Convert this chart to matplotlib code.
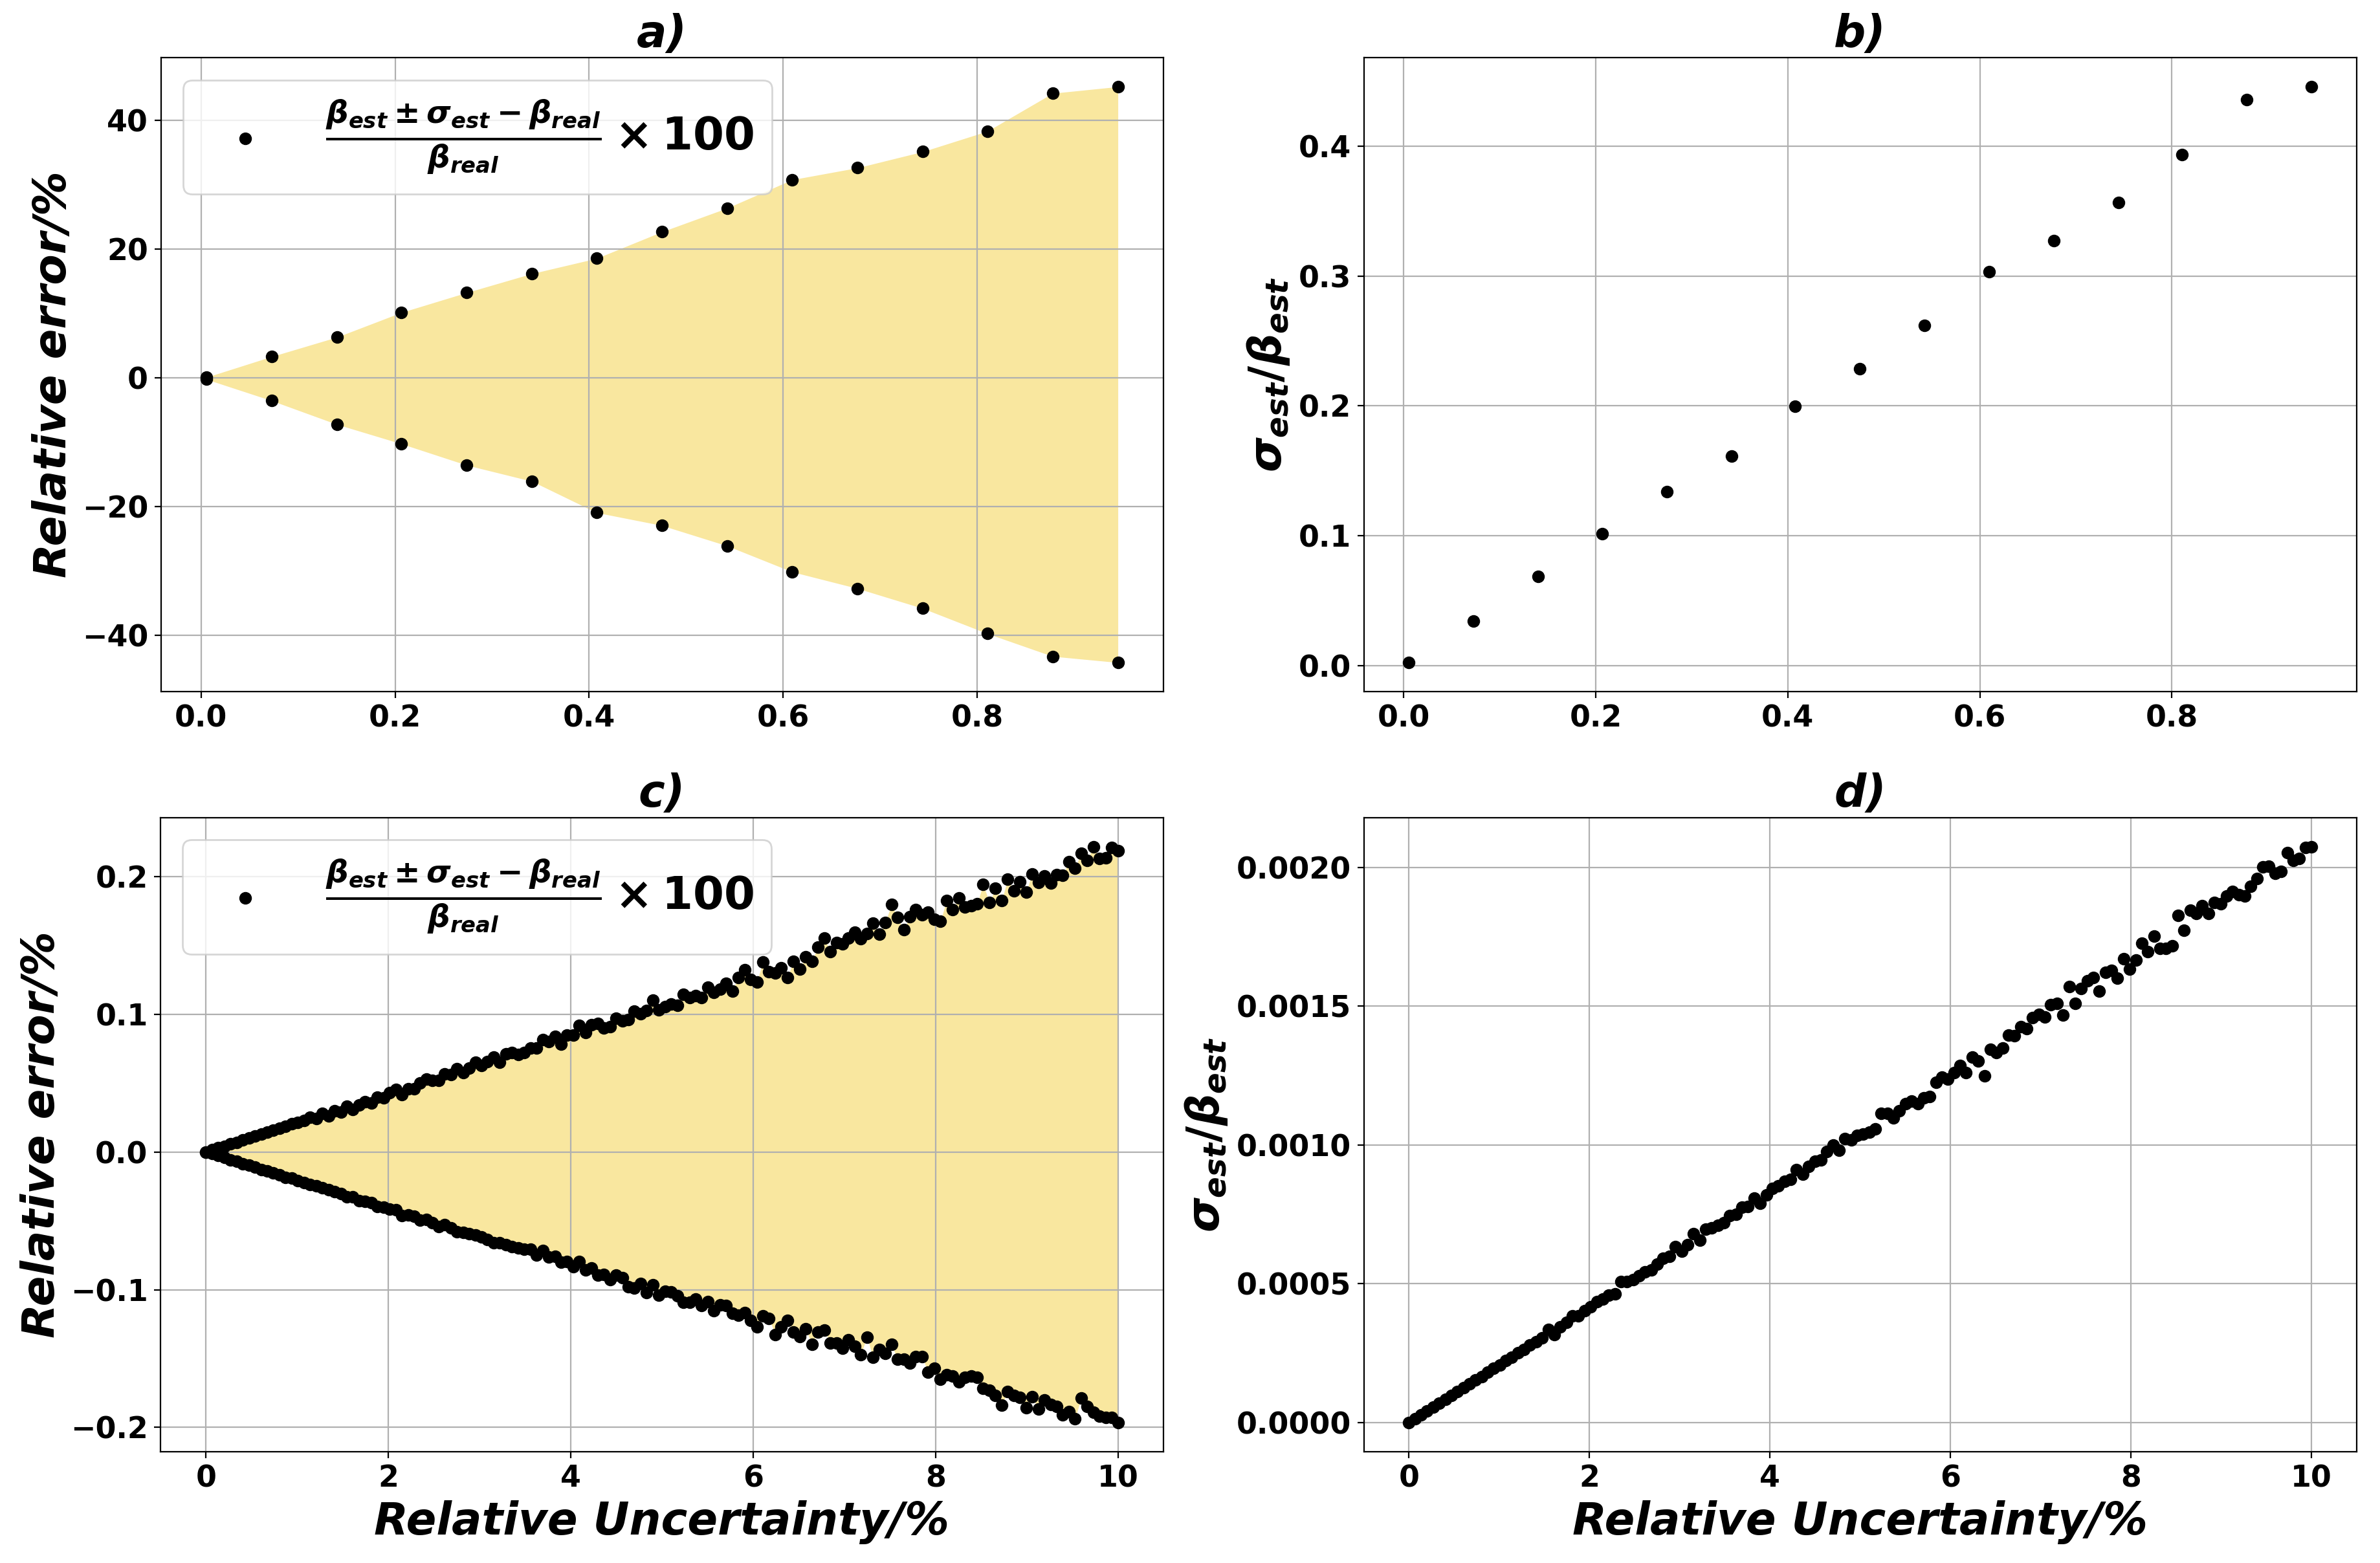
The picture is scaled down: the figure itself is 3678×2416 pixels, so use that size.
import matplotlib
matplotlib.use("Agg")
import matplotlib.pyplot as plt
import numpy as np

# ---------------- data ----------------
# panels a) and b)
x_ab = [0.0055, 0.0728, 0.1401, 0.2066, 0.2739, 0.3412, 0.4077, 0.4750,
        0.5423, 0.6095, 0.6768, 0.7441, 0.8106, 0.8779, 0.9452]
a_upper = [0.1, 3.32, 6.34, 10.18, 13.27, 16.22, 18.58, 22.71, 26.40,
           30.82, 32.67, 35.18, 38.35, 44.25, 45.28]
a_lower = [-0.22, -3.54, -7.23, -10.25, -13.57, -16.08, -20.94, -22.94,
           -26.11, -30.16, -32.74, -35.84, -39.75, -43.29, -44.25]
b_ratio = [0.0026, 0.0343, 0.0686, 0.1015, 0.1339, 0.1613, 0.1996, 0.2285,
           0.2620, 0.3033, 0.3270, 0.3566, 0.3934, 0.4358, 0.4456]

# panels c) and d)
x_cd = [0.000, 0.067, 0.134, 0.201, 0.268, 0.336, 0.403, 0.470, 0.537, 0.604,
        0.671, 0.738, 0.805, 0.872, 0.940, 1.007, 1.074, 1.141, 1.208, 1.275,
        1.342, 1.409, 1.477, 1.544, 1.611, 1.678, 1.745, 1.812, 1.879, 1.946,
        2.013, 2.081, 2.148, 2.215, 2.282, 2.349, 2.416, 2.483, 2.550, 2.617,
        2.685, 2.752, 2.819, 2.886, 2.953, 3.020, 3.087, 3.154, 3.221, 3.289,
        3.356, 3.423, 3.490, 3.557, 3.624, 3.691, 3.758, 3.826, 3.893, 3.960,
        4.027, 4.094, 4.161, 4.228, 4.295, 4.362, 4.430, 4.497, 4.564, 4.631,
        4.698, 4.765, 4.832, 4.899, 4.966, 5.034, 5.101, 5.168, 5.235, 5.302,
        5.369, 5.436, 5.503, 5.570, 5.638, 5.705, 5.772, 5.839, 5.906, 5.973,
        6.040, 6.107, 6.174, 6.242, 6.309, 6.376, 6.443, 6.510, 6.577, 6.644,
        6.711, 6.779, 6.846, 6.913, 6.980, 7.047, 7.114, 7.181, 7.248, 7.315,
        7.383, 7.450, 7.517, 7.584, 7.651, 7.718, 7.785, 7.852, 7.919, 7.987,
        8.054, 8.121, 8.188, 8.255, 8.322, 8.389, 8.456, 8.523, 8.591, 8.658,
        8.725, 8.792, 8.859, 8.926, 8.993, 9.060, 9.128, 9.195, 9.262, 9.329,
        9.396, 9.463, 9.530, 9.597, 9.664, 9.732, 9.799, 9.866, 9.933, 10.000]

c_upper = [0.0000, 0.0016, 0.0030, 0.0042, 0.0059, 0.0071, 0.0086, 0.0100, 0.0117, 0.0128,
           0.0143, 0.0160, 0.0172, 0.0186, 0.0204, 0.0215, 0.0228, 0.0252, 0.0243, 0.0280,
           0.0262, 0.0300, 0.0290, 0.0331, 0.0308, 0.0343, 0.0365, 0.0358, 0.0398, 0.0395,
           0.0432, 0.0454, 0.0415, 0.0460, 0.0458, 0.0500, 0.0528, 0.0522, 0.0520, 0.0568,
           0.0562, 0.0606, 0.0578, 0.0610, 0.0650, 0.0628, 0.0655, 0.0690, 0.0652, 0.0712,
           0.0724, 0.0706, 0.0722, 0.0753, 0.0753, 0.0816, 0.0800, 0.0839, 0.0784, 0.0847,
           0.0847, 0.0922, 0.0870, 0.0925, 0.0933, 0.0902, 0.0909, 0.0972, 0.0952, 0.0964,
           0.1023, 0.1003, 0.1027, 0.1105, 0.1034, 0.1058, 0.1077, 0.1066, 0.1144, 0.1123,
           0.1136, 0.1123, 0.1198, 0.1159, 0.1183, 0.1227, 0.1170, 0.1269, 0.1323, 0.1253,
           0.1234, 0.1378, 0.1308, 0.1300, 0.1339, 0.1269, 0.1386, 0.1327, 0.1417, 0.1386,
           0.1488, 0.1556, 0.1457, 0.1520, 0.1512, 0.1556, 0.1598, 0.1551, 0.1587, 0.1660,
           0.1582, 0.1668, 0.1797, 0.1703, 0.1613, 0.1707, 0.1759, 0.1723, 0.1743, 0.1692,
           0.1676, 0.1825, 0.1759, 0.1845, 0.1778, 0.1790, 0.1801, 0.1945, 0.1812, 0.1914,
           0.1825, 0.1981, 0.1895, 0.1962, 0.1887, 0.2020, 0.1958, 0.2005, 0.1953, 0.2013,
           0.2009, 0.2110, 0.2063, 0.2169, 0.2119, 0.2219, 0.2130, 0.2135, 0.2213, 0.2188]

c_lower = [0.0000, -0.0012, -0.0027, -0.0041, -0.0056, -0.0069, -0.0085, -0.0097, -0.0111, -0.0126,
           -0.0138, -0.0152, -0.0168, -0.0186, -0.0190, -0.0207, -0.0220, -0.0238, -0.0248, -0.0262,
           -0.0275, -0.0290, -0.0302, -0.0325, -0.0326, -0.0352, -0.0357, -0.0366, -0.0394, -0.0401,
           -0.0414, -0.0420, -0.0462, -0.0457, -0.0468, -0.0496, -0.0490, -0.0512, -0.0540, -0.0528,
           -0.0551, -0.0580, -0.0584, -0.0594, -0.0602, -0.0617, -0.0634, -0.0660, -0.0658, -0.0672,
           -0.0686, -0.0698, -0.0708, -0.0708, -0.0747, -0.0716, -0.0763, -0.0758, -0.0802, -0.0794,
           -0.0833, -0.0794, -0.0856, -0.0841, -0.0895, -0.0888, -0.0927, -0.0892, -0.0911, -0.0981,
           -0.0989, -0.0955, -0.1020, -0.0966, -0.1039, -0.1013, -0.1017, -0.1044, -0.1091, -0.1091,
           -0.1070, -0.1114, -0.1086, -0.1153, -0.1111, -0.1114, -0.1173, -0.1184, -0.1169, -0.1223,
           -0.1270, -0.1192, -0.1208, -0.1325, -0.1270, -0.1223, -0.1309, -0.1341, -0.1286, -0.1395,
           -0.1308, -0.1293, -0.1387, -0.1387, -0.1423, -0.1363, -0.1410, -0.1470, -0.1344, -0.1491,
           -0.1433, -0.1465, -0.1399, -0.1504, -0.1504, -0.1532, -0.1488, -0.1488, -0.1598, -0.1570,
           -0.1653, -0.1617, -0.1629, -0.1668, -0.1637, -0.1626, -0.1637, -0.1715, -0.1731, -0.1770,
           -0.1840, -0.1739, -0.1770, -0.1782, -0.1856, -0.1778, -0.1867, -0.1801, -0.1833, -0.1848,
           -0.1911, -0.1887, -0.1939, -0.1786, -0.1848, -0.1892, -0.1919, -0.1930, -0.1926, -0.1966]

d_ratio = [0e-6, 14e-6, 27e-6, 42e-6, 55e-6, 70e-6, 83e-6, 97e-6, 112e-6, 125e-6,
           139e-6, 154e-6, 166e-6, 181e-6, 195e-6, 208e-6, 223e-6, 236e-6, 251e-6, 263e-6,
           279e-6, 292e-6, 305e-6, 335e-6, 316e-6, 345e-6, 362e-6, 385e-6, 384e-6, 404e-6,
           418e-6, 436e-6, 446e-6, 460e-6, 465e-6, 507e-6, 508e-6, 516e-6, 530e-6, 543e-6,
           551e-6, 571e-6, 592e-6, 598e-6, 634e-6, 617e-6, 640e-6, 681e-6, 657e-6, 697e-6,
           701e-6, 710e-6, 721e-6, 745e-6, 751e-6, 777e-6, 778e-6, 809e-6, 791e-6, 820e-6,
           844e-6, 853e-6, 870e-6, 876e-6, 912e-6, 894e-6, 922e-6, 941e-6, 945e-6, 977e-6,
           1000e-6, 981e-6, 1023e-6, 1019e-6, 1035e-6, 1039e-6, 1047e-6, 1058e-6, 1113e-6, 1113e-6,
           1097e-6, 1124e-6, 1148e-6, 1159e-6, 1148e-6, 1171e-6, 1175e-6, 1225e-6, 1245e-6, 1237e-6,
           1260e-6, 1287e-6, 1260e-6, 1316e-6, 1303e-6, 1248e-6, 1345e-6, 1334e-6, 1349e-6, 1396e-6,
           1394e-6, 1427e-6, 1419e-6, 1458e-6, 1470e-6, 1462e-6, 1505e-6, 1509e-6, 1467e-6, 1571e-6,
           1510e-6, 1563e-6, 1592e-6, 1603e-6, 1554e-6, 1621e-6, 1629e-6, 1602e-6, 1670e-6, 1633e-6,
           1665e-6, 1726e-6, 1696e-6, 1753e-6, 1709e-6, 1709e-6, 1718e-6, 1827e-6, 1774e-6, 1846e-6,
           1835e-6, 1862e-6, 1835e-6, 1873e-6, 1870e-6, 1897e-6, 1914e-6, 1901e-6, 1897e-6, 1932e-6,
           1959e-6, 2002e-6, 2005e-6, 1978e-6, 1986e-6, 2052e-6, 2025e-6, 2033e-6, 2071e-6, 2075e-6]

titles = ["a)", "b)", "c)", "d)"]
legend_label = r"$\frac{\beta_{est} \pm \sigma_{est} - \beta_{real}}{\beta_{real}} \times 100$"
ratio_label = r"$\sigma_{est}/\beta_{est}$"
err_label = "Relative error/%"
unc_label = "Relative Uncertainty/%"

# ---------------- style ----------------
plt.rcParams["font.family"] = ["DejaVu Sans"]
plt.rcParams["font.weight"] = "bold"
plt.rcParams["mathtext.fontset"] = "custom"
plt.rcParams["mathtext.rm"] = "DejaVu Sans:bold"
plt.rcParams["mathtext.it"] = "DejaVu Sans:italic:bold"
plt.rcParams["mathtext.bf"] = "DejaVu Sans:bold"

FILL = "#F9E79F"
BIG = 24.8
TICK = 16.5

fig = plt.figure(figsize=(18.39, 12.08), dpi=200)
ax_a = fig.add_axes([0.06759, 0.55770, 0.42126, 0.40526])
ax_b = fig.add_axes([0.57303, 0.55770, 0.41710, 0.40526])
ax_c = fig.add_axes([0.06743, 0.07136, 0.42142, 0.40546])
ax_d = fig.add_axes([0.57303, 0.07136, 0.41710, 0.40546])


def style(ax, title):
    ax.grid(True)
    ax.set_title(title, fontsize=BIG, fontweight="bold", fontstyle="italic")
    ax.tick_params(labelsize=TICK)
    for lab in ax.get_xticklabels() + ax.get_yticklabels():
        lab.set_fontweight("bold")


# a)
ax_a.fill_between(x_ab, a_lower, a_upper, color=FILL, linewidth=0)
ax_a.scatter(x_ab, a_upper, color="black", s=36, zorder=3, label=legend_label)
ax_a.scatter(x_ab, a_lower, color="black", s=36, zorder=3)
ax_a.set_ylabel(err_label, fontsize=BIG, fontweight="bold", fontstyle="italic")
ax_a.legend(loc="upper left", fontsize=BIG)
style(ax_a, titles[0])

# b)
ax_b.scatter(x_ab, b_ratio, color="black", s=36, zorder=3)
ax_b.set_ylabel(ratio_label, fontsize=BIG)
style(ax_b, titles[1])

# c)
ax_c.fill_between(x_cd, c_lower, c_upper, color=FILL, linewidth=0)
ax_c.scatter(x_cd, c_upper, color="black", s=36, zorder=3, label=legend_label)
ax_c.scatter(x_cd, c_lower, color="black", s=36, zorder=3)
ax_c.set_ylabel(err_label, fontsize=BIG, fontweight="bold", fontstyle="italic")
ax_c.set_xlabel(unc_label, fontsize=BIG, fontweight="bold", fontstyle="italic")
ax_c.legend(loc="upper left", fontsize=BIG)
style(ax_c, titles[2])

# d)
ax_d.scatter(x_cd, d_ratio, color="black", s=36, zorder=3)
ax_d.set_ylabel(ratio_label, fontsize=BIG)
ax_d.set_xlabel(unc_label, fontsize=BIG, fontweight="bold", fontstyle="italic")
style(ax_d, titles[3])

fig.savefig("out.png", dpi=200)
